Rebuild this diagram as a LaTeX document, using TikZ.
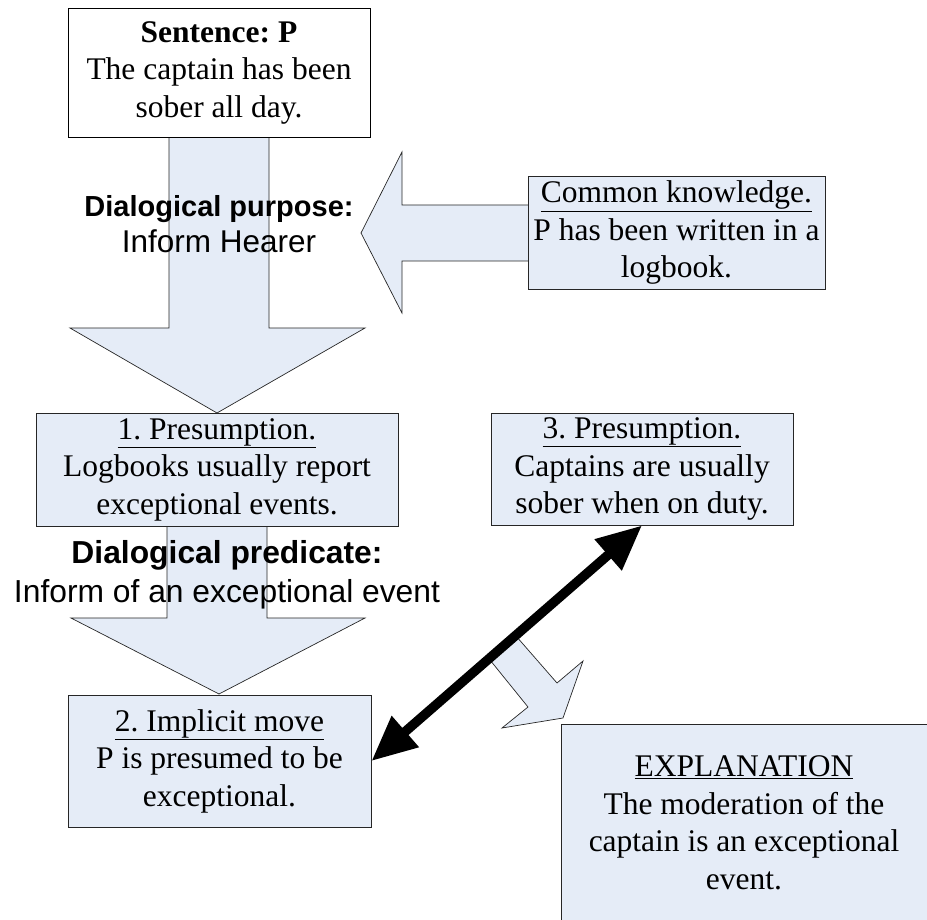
\documentclass[tikz,border=0pt]{standalone}
\usepackage{fontspec}
\setmainfont{Liberation Serif}
\newfontfamily\arialfont{Liberation Sans}
\usetikzlibrary{arrows.meta}
\definecolor{boxblue}{RGB}{229,236,247}
\frenchspacing
\begin{document}
\begin{tikzpicture}[x=1pt,y=-1pt,
  box/.style={draw=black!85, fill=boxblue, line width=0.9pt, inner sep=0pt, align=center,
    font=\fontsize{31.5}{37.5}\selectfont},
  txt/.style={inner sep=0pt, align=center, font=\fontsize{31.5}{37.5}\selectfont},
  blockarrow/.style={draw=black!85, fill=boxblue, line width=0.7pt, line join=miter},
  lbl/.style={align=center, inner sep=0pt},
  link/.style={line width=9.5pt, {Triangle[length=45pt,width=39pt]}-{Triangle[length=45pt,width=39pt]}}
]
\useasboundingbox (0,0) rectangle (927,920);
\clip (0,0) rectangle (927,920);

% block arrows
\draw[blockarrow] (169,137) -- (169,328) -- (70,328) -- (217,413) -- (365,328) -- (269,328) -- (269,137) -- cycle;
\draw[blockarrow] (167,525) -- (167,618) -- (71,618) -- (219,694) -- (365,618) -- (267,618) -- (267,525) -- cycle;
\draw[blockarrow] (540,205) -- (402,205) -- (402,152) -- (361,233) -- (402,313) -- (402,261) -- (540,261) -- cycle;

% boxes
\node[box, draw=black, fill=white, minimum width=302, minimum height=129] (s) at (219,72.5)
  {\textbf{Sentence: P}\\The captain has been\\sober all day.};
\node[box, minimum width=297, minimum height=113] (ck) at (676.5,232.5)
  {\underline{Common knowledge.}\\P has been written in a\\logbook.};
\node[box, minimum width=362, minimum height=113] (b1) at (217,469.5)
  {\underline{1. Presumption.}\\Logbooks usually report\\exceptional events.};
\node[box, minimum width=302, minimum height=112] (b3) at (642,469)
  {\underline{3. Presumption.}\\Captains are usually\\sober when on duty.};
\node[box, minimum width=303, minimum height=132] (b2) at (219.5,761)
  {\underline{2. Implicit move}\\P is presumed to be\\exceptional.};
\node[box, minimum width=374, minimum height=216] (ex) at (748,832) {};
\node[txt] (ext) at (744,823)
  {\underline{EXPLANATION}\\The moderation of the\\captain is an exceptional\\event.};

% labels on the block arrows
\node[lbl, font=\arialfont\fontsize{31.5}{36}\selectfont] (dp) at (219,224.5)
  {{\bfseries\fontsize{29}{36}\selectfont Dialogical purpose:}\\Inform Hearer};
\node[lbl, font=\arialfont\fontsize{31.8}{39}\selectfont] (dq) at (227,574.5)
  {{\bfseries Dialogical predicate:}\\Inform of an exceptional event};

% small hollow arrow
\draw[blockarrow] (490,660) -- (528,707) -- (502,728) -- (563,718) -- (583,661) -- (557,683) -- (516,636) -- cycle;

% double arrow
\draw[link] (b2.east) -- (b3.south);
\end{tikzpicture}
\end{document}
